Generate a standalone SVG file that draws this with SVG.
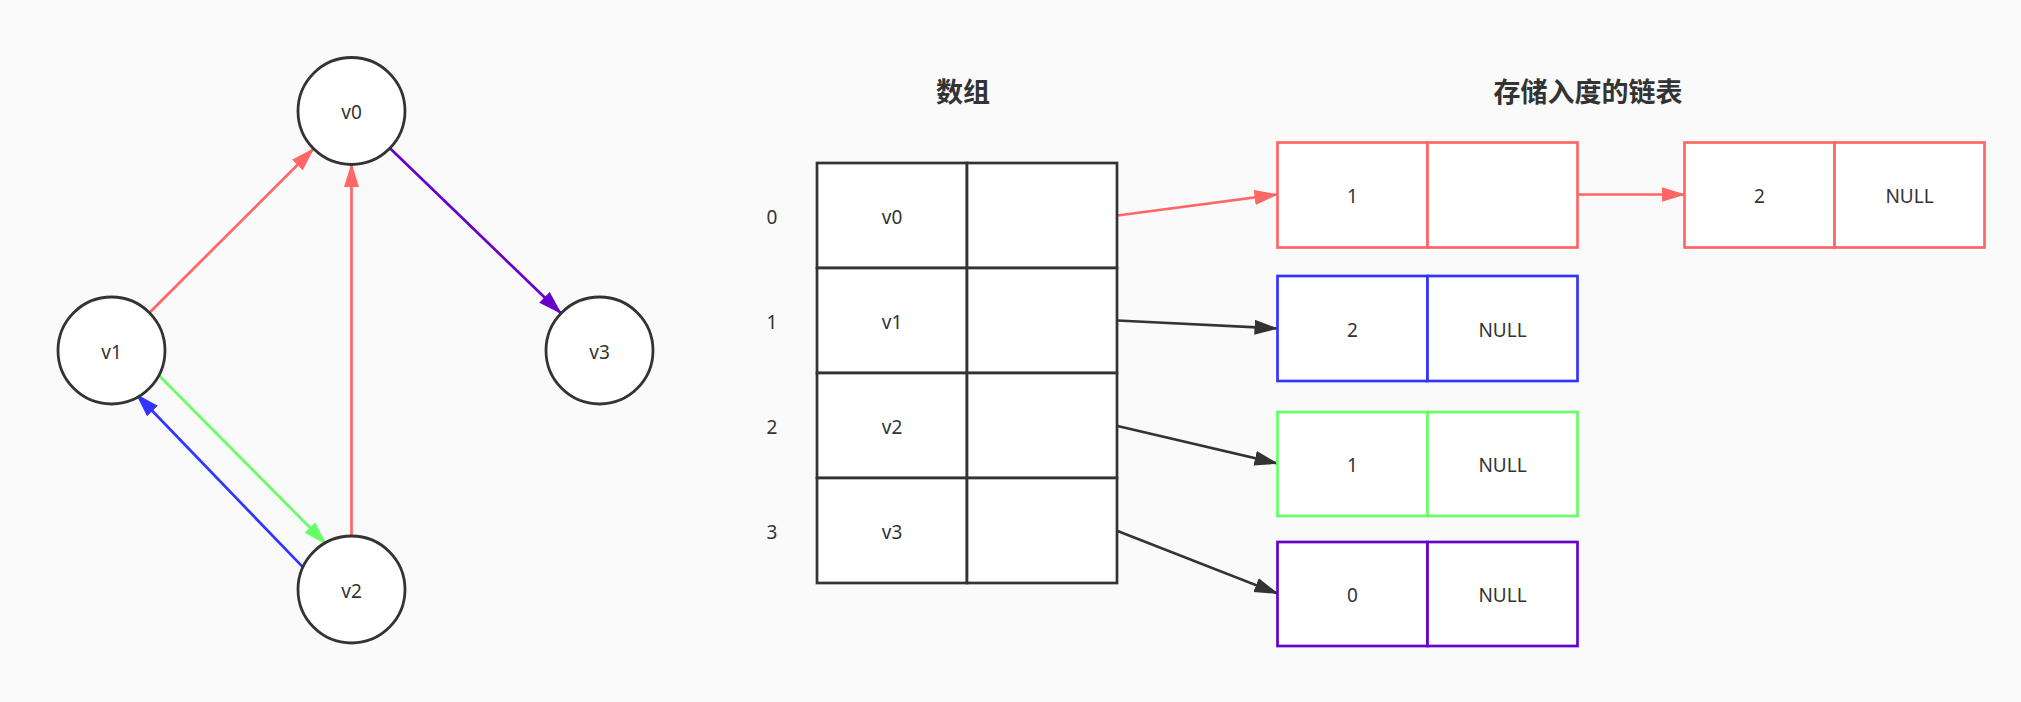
<svg xmlns="http://www.w3.org/2000/svg" width="2021" height="702" viewBox="0 0 2021 702">
<style>
.t{font-family:"Noto Sans","Liberation Sans","Noto Sans CJK SC",sans-serif;font-size:19px;fill:#333;text-anchor:middle;dominant-baseline:central}
.h{font-family:"Noto Sans CJK SC","Noto Sans",sans-serif;font-size:27px;font-weight:bold;fill:#333;text-anchor:middle;dominant-baseline:central}
.c{fill:#fff;stroke:#333;stroke-width:2.8}
.cell{fill:#fff;stroke:#333;stroke-width:2.7}
.e{fill:none;stroke-width:2.7}
.b{fill:#fff;stroke-width:2.7}
</style>
<defs>
<marker id="mr" markerUnits="userSpaceOnUse" markerWidth="24" markerHeight="16" refX="23" refY="8" orient="auto"><path d="M0,0.5 L24,8 L0,15.5 z" fill="#ff6666"/></marker>
<marker id="mb" markerUnits="userSpaceOnUse" markerWidth="24" markerHeight="16" refX="23" refY="8" orient="auto"><path d="M0,0.5 L24,8 L0,15.5 z" fill="#3333ff"/></marker>
<marker id="mg" markerUnits="userSpaceOnUse" markerWidth="24" markerHeight="16" refX="23" refY="8" orient="auto"><path d="M0,0.5 L24,8 L0,15.5 z" fill="#66ff66"/></marker>
<marker id="mp" markerUnits="userSpaceOnUse" markerWidth="24" markerHeight="16" refX="23" refY="8" orient="auto"><path d="M0,0.5 L24,8 L0,15.5 z" fill="#6600cc"/></marker>
<marker id="md" markerUnits="userSpaceOnUse" markerWidth="24" markerHeight="16" refX="23" refY="8" orient="auto"><path d="M0,0.5 L24,8 L0,15.5 z" fill="#333"/></marker>
</defs>
<rect width="2021" height="702" fill="#fafafa"/>

<g id="connectors">
<line class="e" x1="149.4" y1="312.7" x2="313.6" y2="148.8" stroke="#ff6666" marker-end="url(#mr)"/>
<line class="e" x1="351.5" y1="536" x2="351.5" y2="164" stroke="#ff6666" marker-end="url(#mr)"/>
<line class="e" x1="390" y1="148.2" x2="561" y2="313.3" stroke="#6600cc" marker-end="url(#mp)"/>
<line class="e" x1="158.5" y1="375" x2="325.9" y2="543.7" stroke="#66ff66" marker-end="url(#mg)"/>
<line class="e" x1="303.6" y1="567.9" x2="136.5" y2="394.5" stroke="#3333ff" marker-end="url(#mb)"/>
<line class="e" x1="1117.5" y1="215.5" x2="1277.5" y2="194.5" stroke="#ff6666" marker-end="url(#mr)"/>
<line class="e" x1="1577.5" y1="194.5" x2="1684.5" y2="194.5" stroke="#ff6666" marker-end="url(#mr)"/>
<line class="e" x1="1117.5" y1="320.5" x2="1277.5" y2="328.5" stroke="#333" marker-end="url(#md)"/>
<line class="e" x1="1117.5" y1="426" x2="1277.5" y2="463.5" stroke="#333" marker-end="url(#md)"/>
<line class="e" x1="1117.5" y1="531" x2="1277.5" y2="593.5" stroke="#333" marker-end="url(#md)"/>
</g>

<g id="v0"><circle class="c" cx="351.5" cy="111" r="53.5"/><text class="t" x="351.5" y="112">v0</text></g>
<g id="v1"><circle class="c" cx="111.5" cy="350.5" r="53.5"/><text class="t" x="111.5" y="351.5">v1</text></g>
<g id="v2"><circle class="c" cx="351.5" cy="589.5" r="53.5"/><text class="t" x="351.5" y="590.5">v2</text></g>
<g id="v3"><circle class="c" cx="599.5" cy="350.5" r="53.5"/><text class="t" x="599.5" y="351.5">v3</text></g>

<g id="title-array"><text class="h" x="963" y="90">数组</text></g>
<g id="title-list"><text class="h" x="1588" y="90">存储入度的链表</text></g>

<g id="array">
<rect class="cell" x="817" y="163" width="150" height="105"/><rect class="cell" x="967" y="163" width="150" height="105"/>
<rect class="cell" x="817" y="268" width="150" height="105"/><rect class="cell" x="967" y="268" width="150" height="105"/>
<rect class="cell" x="817" y="373" width="150" height="105"/><rect class="cell" x="967" y="373" width="150" height="105"/>
<rect class="cell" x="817" y="478" width="150" height="105"/><rect class="cell" x="967" y="478" width="150" height="105"/>
<text class="t" x="892" y="216.5">v0</text>
<text class="t" x="892" y="321.5">v1</text>
<text class="t" x="892" y="426.5">v2</text>
<text class="t" x="892" y="531.5">v3</text>
<text class="t" x="772" y="217">0</text>
<text class="t" x="772" y="322">1</text>
<text class="t" x="772" y="427">2</text>
<text class="t" x="772" y="532">3</text>
</g>

<g id="list0a">
<rect class="b" x="1277.5" y="142.5" width="150" height="105" stroke="#ff6666"/>
<rect class="b" x="1427.5" y="142.5" width="150" height="105" stroke="#ff6666"/>
<text class="t" x="1352.5" y="196">1</text>
</g>
<g id="list0b">
<rect class="b" x="1684.5" y="142.5" width="150" height="105" stroke="#ff6666"/>
<rect class="b" x="1834.5" y="142.5" width="150" height="105" stroke="#ff6666"/>
<text class="t" x="1759.5" y="196">2</text>
<text class="t" x="1909.5" y="196">NULL</text>
</g>
<g id="list1">
<rect class="b" x="1277.5" y="276" width="150" height="105" stroke="#3333ff"/>
<rect class="b" x="1427.5" y="276" width="150" height="105" stroke="#3333ff"/>
<text class="t" x="1352.5" y="329.5">2</text>
<text class="t" x="1502.5" y="329.5">NULL</text>
</g>
<g id="list2">
<rect class="b" x="1277.5" y="412" width="150" height="104" stroke="#66ff66"/>
<rect class="b" x="1427.5" y="412" width="150" height="104" stroke="#66ff66"/>
<text class="t" x="1352.5" y="465">1</text>
<text class="t" x="1502.5" y="465">NULL</text>
</g>
<g id="list3">
<rect class="b" x="1277.5" y="542" width="150" height="104" stroke="#6600cc"/>
<rect class="b" x="1427.5" y="542" width="150" height="104" stroke="#6600cc"/>
<text class="t" x="1352.5" y="595">0</text>
<text class="t" x="1502.5" y="595">NULL</text>
</g>
</svg>
